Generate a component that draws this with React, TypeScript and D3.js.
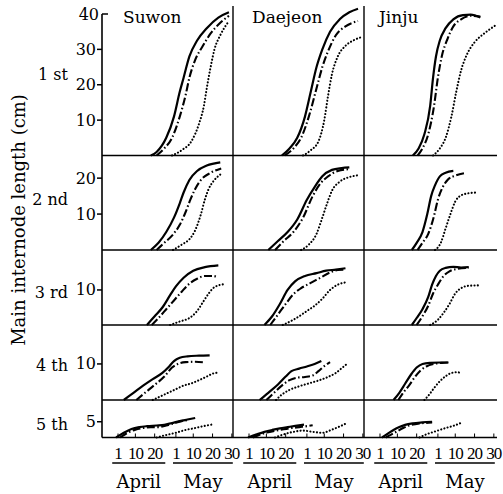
import React from "react";
import * as d3 from "d3";

const sites = ["Suwon", "Daejeon", "Jinju"];
const internodes = ["1 st", "2 nd", "3 rd", "4 th", "5 th"];
const yTicks = [[10, 20, 30, 40], [10, 20], [10], [10], [5]];
const yMax = [40, 26.3, 21.4, 20.8, 11.9];

// x = days after April 1 (April 1 = 0, May 1 = 30)
const dateTicks = [0, 9, 19, 30, 39, 49, 59];
const dateLabels = ["1", "10", "20", "1", "10", "20", "30"];
const monthNames = ["April", "May"];
const monthSpans = [[-3, 24.5], [28.5, 59.5]];

type Pt = [number, number];

// one list per internode (1st .. 5th), points are [day, cm]
const suwonSolid: Pt[][] = [
  [[17, 0], [20, 1], [25, 5], [29, 11], [32, 18], [34, 22], [37, 28], [41, 32.5], [46, 36], [52, 39], [57.5, 40.5]],
  [[17, 0], [21, 2], [25, 5], [29, 9], [32, 13], [34, 16], [37, 19.5], [41, 22], [46, 23.5], [53, 24.4]],
  [[15, 0], [19, 2.5], [23, 5], [27, 8.5], [30, 11], [34, 13.5], [39, 15.5], [45, 16.5], [52, 17]],
  [[3, 0], [8, 2], [13, 4], [18, 5.8], [23, 7.5], [26, 9], [29, 10.8], [32, 11.7], [36, 12.1], [42, 12.3], [47.5, 12.4]],
  [[-1, 0], [3, 1.5], [7, 2.7], [11, 3.3], [15, 3.6], [20, 3.8], [24, 4], [28, 4.6], [32, 5.2], [36, 5.7], [40, 6.2]],
];
const suwonDashDot: Pt[][] = [
  [[20, 0], [24, 2], [28, 5], [32, 11], [35, 17], [37, 22], [40, 27], [44, 31], [48, 34.5], [53, 37.5], [57.5, 39.5]],
  [[20, 0], [24, 2], [28, 4], [32, 7], [35, 10.5], [37.5, 14], [40, 17], [43, 19.5], [48, 21.5], [53.5, 22.7]],
  [[17.5, 0], [21, 2], [25, 4.5], [29, 7], [33, 9.5], [37, 11.8], [41, 13.2], [45, 14], [49, 14], [52, 13.6]],
  [[9.5, 0], [14, 2], [19, 4.2], [24, 6.5], [28, 9], [31, 10], [35, 10.5], [40, 10.6], [45, 10.4]],
  [[1, 0], [5, 1.5], [9, 2.5], [13, 3], [17, 3.3], [21, 3.3], [25, 3.8], [29, 4.5], [33, 5.2], [37, 5.6]],
];
const suwonDotted: Pt[][] = [
  [[28, 0], [33, 1.5], [38, 4], [42, 9], [44.5, 14], [46, 19], [48, 25], [50, 30], [53, 34], [57.5, 38]],
  [[28.5, 0], [33, 1.5], [37, 3], [40, 5.5], [43, 10], [45, 14], [47, 17], [50, 19.5], [53, 21]],
  [[27, 0], [32, 1], [37, 2], [41, 4], [44, 6.5], [47, 9], [50, 10.8], [55.5, 11.7]],
  [[18, 0], [22, 1], [26, 2], [30, 3], [34, 4], [38, 4.6], [42, 5.5], [46, 6.5], [49, 7.3], [52, 7.6]],
  [[20, 0], [25, 0.8], [30, 1.5], [35, 2.4], [40, 3], [45, 3.7], [49.5, 4.2]],
];

const daejeonSolid: Pt[][] = [
  [[17, 0], [21, 2], [25, 5], [29, 11], [32, 18], [35, 25], [38, 30], [42, 35], [47, 38.5], [52, 40.5], [56.5, 41.5]],
  [[10, 0], [15, 2.5], [20, 5], [25, 8.5], [30, 14], [34, 17.5], [38, 20.5], [43, 22.3], [48, 22.8], [52, 23]],
  [[8, 0], [12, 2.5], [16, 6], [20, 10], [24, 12.5], [29, 14], [35, 14.8], [40, 15.5], [45, 15.8], [50, 16.2]],
  [[5.5, 0], [10, 2], [15, 4.3], [19, 6.5], [22, 8], [26, 8.7], [30, 9.3], [34, 10], [37.5, 10.8]],
  [[-0.5, 0], [4, 1], [8, 1.8], [12, 2.4], [16, 2.9], [20, 3.3], [24, 3.7], [28.5, 4.1]],
];
const daejeonDashDot: Pt[][] = [
  [[18.5, 0], [23, 2], [27, 5], [31, 11], [35, 19], [38, 25], [41, 29.5], [45, 34], [50, 36.5], [56.5, 38]],
  [[13.5, 0], [18, 2.5], [23, 5], [28, 9], [33, 15], [37, 18.5], [41, 20.5], [46, 22], [52, 22.5]],
  [[11, 0], [15, 3], [19, 6], [23, 8.8], [27, 10.5], [32, 12], [37, 13.5], [42, 15], [46, 15.7], [50, 15.8]],
  [[9, 0], [13, 2], [17, 4], [21, 5.5], [25, 6.2], [29, 6.4], [33, 6.8], [36, 8], [39, 9.4], [42, 10.5]],
  [[2, 0], [6, 1], [10, 1.7], [14, 2.2], [18, 2.6], [22, 3], [26, 3.3], [30, 3.6], [33, 3.9]],
];
const daejeonDotted: Pt[][] = [
  [[28, 0], [32, 1.5], [36, 4], [39, 10], [41, 17], [43, 23], [46, 28], [50, 31], [54, 32.5], [58.5, 33.5]],
  [[27, 0], [31, 1.5], [35, 4.5], [38, 9], [40.5, 13], [43, 16.5], [47, 19], [52, 20.3], [56.5, 20.8]],
  [[17.5, 0], [22, 1.2], [26, 2.5], [30, 4], [34, 5.5], [38, 7.5], [42, 10], [46, 11.5], [50.5, 12.2]],
  [[14, 0], [17, 1.5], [21, 2.8], [26, 3.8], [31, 4.6], [36, 5.4], [41, 6.4], [45, 7.5], [48, 8.8], [50.5, 9.9]],
  [[13.5, 0], [18, 1], [23, 1.8], [28, 2.2], [33, 1.8], [38, 1.5], [43, 2.5], [47, 3.5], [50.5, 4.5]],
];

const jinjuSolid: Pt[][] = [
  [[17, 0], [20, 2], [23, 6], [26, 14], [27.5, 22], [29, 28], [31, 32.5], [34, 36], [38, 38.5], [43, 39.7], [47, 39.8], [52, 39]],
  [[16.5, 0], [19, 2], [22, 5], [24.5, 10], [26.5, 15], [28.5, 18], [31, 20.5], [34, 21.5], [38, 22]],
  [[16.5, 0], [19, 2], [22, 4.5], [25, 8], [27, 11.5], [29, 14], [31, 15.5], [34, 16.3], [38, 16.6], [42, 16.4], [46, 16.5]],
  [[7, 0], [10, 2], [13, 4.5], [16, 7], [19, 9], [22, 10], [26, 10.3], [31, 10.4], [35.5, 10.4]],
  [[1, 0], [4, 1.2], [7, 2.4], [10, 3.3], [13, 4], [17, 4.5], [22, 4.8], [27, 5]],
];
const jinjuDashDot: Pt[][] = [
  [[19.5, 0], [22, 2], [25, 6], [28, 14], [30, 22], [32, 28], [35, 33], [38, 36.5], [42, 38.5], [47, 39.5], [52, 39.3]],
  [[19.5, 0], [22, 2], [25, 4.5], [28, 9.5], [30, 14], [32.5, 17.5], [35, 19.5], [39, 20.7], [44, 21.4]],
  [[19, 0], [22, 2.5], [25, 5.5], [27.5, 9], [30, 11.5], [33, 14], [36, 15.3], [40, 16], [46, 16.3]],
  [[9.5, 0], [12, 2], [15, 4], [18, 6.3], [21, 8.2], [24, 9.3], [28, 10], [32, 10.3], [35.5, 10.4]],
  [[3, 0], [6, 1], [9, 2], [12, 3], [15, 3.8], [19, 4.3], [23, 4.6], [27, 4.8]],
];
const jinjuDotted: Pt[][] = [
  [[27.5, 0], [31, 2], [34, 5], [37, 11], [39.5, 18], [42, 24], [45, 28.5], [49, 32], [54, 34.5], [60.5, 37]],
  [[28.5, 0], [31.5, 2], [34, 6], [36.5, 10], [39, 13.5], [42, 15.2], [46, 15.8], [50, 16]],
  [[26, 0], [30, 1.5], [33, 3.5], [36, 6], [39, 9], [42, 10.5], [46, 11.2], [51, 11.3]],
  [[23, 0], [25.5, 1.5], [28, 3.3], [31, 5.2], [34, 6.6], [37, 7.5], [40, 7.7], [42.5, 7.4]],
  [[20.5, 0], [24, 1], [28, 1.8], [31, 2.4], [34, 3], [38, 3.7], [41.5, 4.5]],
];

const siteSeries = [
  [suwonSolid, suwonDashDot, suwonDotted],
  [daejeonSolid, daejeonDashDot, daejeonDotted],
  [jinjuSolid, jinjuDashDot, jinjuDotted],
];

// layout
const W = 503;
const H = 494;
const colLeft = [102, 233, 364];
const colW = 131;
const xDomain = [-8.3, 59.6];
const rowBase = [155.5, 250, 325, 400, 437.5];
const rowTop = [14, 155.5, 250, 325, 400];
const rowLabelY = [80, 205, 298, 371, 430];
const titleOffset = [21, 19, 15];
const rightEnd = 497;
const serif = "'DejaVu Serif', serif";
const lineStyles = [
  { dash: undefined as string | undefined, width: 2.2 },
  { dash: "8 2.5 1.5 2.5", width: 2.1 },
  { dash: "0.1 3.2", width: 2.1 },
];

export default function App() {
  const xScales = colLeft.map((l) =>
    d3.scaleLinear().domain(xDomain).range([l, l + colW])
  );
  const yScales = rowBase.map((b, r) =>
    d3.scaleLinear().domain([0, yMax[r]]).range([b, rowTop[r]])
  );

  return (
    <svg
      width={W}
      height={H}
      style={{ position: "absolute", left: 0, top: 0, background: "#fff" }}
    >
      {/* y axis title */}
      <text
        transform={`translate(25,220) rotate(-90)`}
        textAnchor="middle"
        fontFamily={serif}
        fontSize={18}
      >
        Main internode length (cm)
      </text>

      {/* site titles */}
      {sites.map((s, c) => (
        <text key={s} x={colLeft[c] + titleOffset[c]} y={23} fontFamily={serif} fontSize={17}>
          {s}
        </text>
      ))}

      {/* row labels and y ticks */}
      {internodes.map((lab, r) => (
        <g key={lab}>
          <text
            x={68}
            y={rowLabelY[r]}
            textAnchor="end"
            fontFamily={serif}
            fontSize={16}
          >
            {lab}
          </text>
          {yTicks[r].map((t) => {
            const y = yScales[r](t);
            const top = r === 0 && t === 40;
            return (
              <g key={t}>
                <line
                  x1={top ? colLeft[0] : colLeft[0] - 5}
                  x2={top ? colLeft[0] + 6 : colLeft[0]}
                  y1={y}
                  y2={y}
                  stroke="#000"
                  strokeWidth={1.5}
                />
                <text
                  x={top ? 99 : 96}
                  y={y + 5.5}
                  textAnchor="end"
                  fontFamily={serif}
                  fontSize={16}
                >
                  {t}
                </text>
              </g>
            );
          })}
        </g>
      ))}

      {/* frame lines */}
      <line x1={colLeft[0]} x2={colLeft[0]} y1={rowTop[0]} y2={rowBase[4]} stroke="#000" strokeWidth={1.6} />
      {colLeft.slice(1).map((x) => (
        <line key={x} x1={x} x2={x} y1={6} y2={rowBase[4]} stroke="#000" strokeWidth={1.4} />
      ))}
      {rowBase.map((y) => (
        <line key={y} x1={colLeft[0]} x2={rightEnd} y1={y} y2={y} stroke="#000" strokeWidth={1.6} />
      ))}

      {/* curves */}
      {siteSeries.map((series, c) =>
        series.map((rows, k) =>
          rows.map((pts, r) => {
            const line = d3
              .line<Pt>()
              .x((d) => xScales[c](d[0]))
              .y((d) => yScales[r](d[1]))
              .curve(d3.curveMonotoneX);
            return (
              <path
                key={`${c}-${k}-${r}`}
                d={line(pts) || ""}
                fill="none"
                stroke="#000"
                strokeWidth={lineStyles[k].width}
                strokeDasharray={lineStyles[k].dash}
                strokeLinecap={k === 2 ? "round" : "butt"}
              />
            );
          })
        )
      )}

      {/* date axis */}
      {xScales.map((xs, c) => (
        <g key={c}>
          {dateTicks.map((d, i) => (
            <g key={i}>
              <line
                x1={xs(d)}
                x2={xs(d)}
                y1={rowBase[4]}
                y2={rowBase[4] - 4}
                stroke="#000"
                strokeWidth={1}
              />
              <text
                x={xs(d)}
                y={459}
                textAnchor="middle"
                fontFamily="'Liberation Serif', serif"
                fontSize={17}
                letterSpacing={-1}
              >
                {dateLabels[i]}
              </text>
            </g>
          ))}
          {monthNames.map((m, i) => (
            <g key={m}>
              <line
                x1={xs(monthSpans[i][0])}
                x2={xs(monthSpans[i][1])}
                y1={463}
                y2={463}
                stroke="#000"
                strokeWidth={1.6}
              />
              <text
                x={xs((monthSpans[i][0] + monthSpans[i][1]) / 2)}
                y={488}
                textAnchor="middle"
                fontFamily={serif}
                fontSize={18}
              >
                {m}
              </text>
            </g>
          ))}
        </g>
      ))}
    </svg>
  );
}
